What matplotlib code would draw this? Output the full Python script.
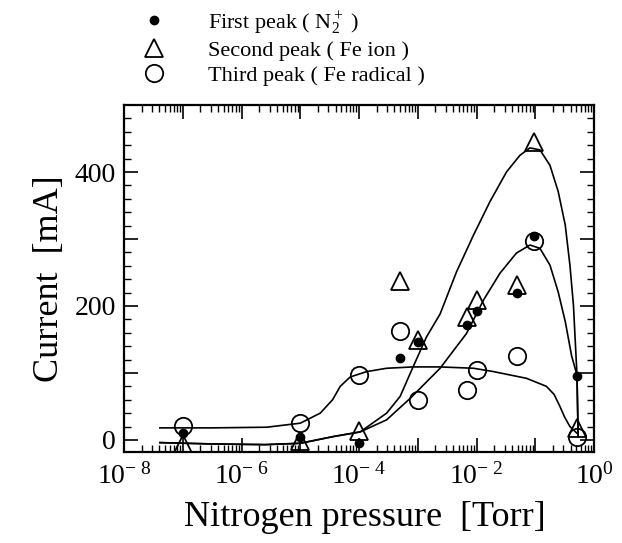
import numpy as np
import matplotlib
matplotlib.use("Agg")
import matplotlib.pyplot as plt
from matplotlib.ticker import LogLocator, MultipleLocator, FuncFormatter, NullFormatter

plt.rcParams['font.family'] = ['Liberation Serif', 'DejaVu Serif']
plt.rcParams['mathtext.fontset'] = 'custom'
plt.rcParams['mathtext.rm'] = 'Liberation Serif'
plt.rcParams['mathtext.it'] = 'Liberation Serif:italic'

# measured points (pressure in Torr, current in mA)
pressure = [1e-7, 1e-5, 1e-4, 5e-4, 1e-3, 7e-3, 1e-2, 4.8e-2, 9.5e-2, 0.52]
first_peak = [11, 5, -4, 122, 146, 171, 192, 219, 304, 96]
second_peak = [-6, -1, 14, 238, 149, 183, 209, 231, 445, 18]
third_peak = [21, 26, 97, 163, 60, 75, 105, 126, 297, 4]

# fitted curves (log10 pressure, current)
fit2_logp = [-7.39, -6.5, -5.6, -5.0, -4.44, -3.98, -3.53, -3.30, -3.08, -2.85, -2.62,
             -2.34, -2.05, -1.77, -1.49, -1.26, -1.09, -0.92, -0.75, -0.61, -0.49,
             -0.41, -0.35, -0.29, -0.27]
fit2_cur = [-4, -6, -7, -5, 5, 12, 40, 65, 109, 154, 188,
            251, 306, 356, 400, 425, 436, 433, 410, 371, 321,
            261, 201, 97, 5]
fit1_logp = [-7.39, -6.5, -5.6, -5.0, -4.44, -3.98, -3.53, -3.13, -2.62, -2.17, -1.88,
             -1.60, -1.32, -1.09, -0.92, -0.75, -0.61, -0.49, -0.38, -0.29, -0.27]
fit1_cur = [-4, -6, -7, -5, 5, 12, 30, 62, 107, 159, 209,
            249, 279, 291, 286, 261, 221, 177, 125, 97, 5]
fit3_logp = [-7.39, -6.5, -5.57, -5.0, -4.66, -4.45, -4.32, -4.15, -3.87, -3.53, -3.08,
             -2.62, -2.05, -1.71, -1.15, -0.81, -0.68, -0.58, -0.5, -0.41, -0.29]
fit3_cur = [18, 18, 19, 25, 40, 60, 80, 94, 102, 107, 109,
            109, 107, 102, 92, 80, 68, 50, 34, 20, 10]

fig = plt.figure(figsize=(6.22, 5.43), dpi=100)
ax = fig.add_axes([0.1994, 0.1676, 0.7556, 0.639])

for lp, c in [(fit1_logp, fit1_cur), (fit2_logp, fit2_cur), (fit3_logp, fit3_cur)]:
    ax.plot(10 ** np.array(lp), c, color='black', lw=1.2, zorder=2)

ax.plot(pressure, third_peak, 'o', ms=12.5, mfc='none', mec='black', mew=1.3,
        label='Third peak ( Fe radical )', zorder=3)
ax.plot(pressure, second_peak, '^', ms=12.5, mfc='none', mec='black', mew=1.3,
        label='Second peak ( Fe ion )', zorder=4)
ax.plot(pressure, first_peak, 'o', ms=6, color='black',
        label='First peak ( N$_2^+$ )', zorder=5)

ax.set_xscale('log')
ax.set_xlim(1e-8, 1)
ax.set_ylim(-18, 500)

ax.xaxis.set_major_locator(LogLocator(base=10, numticks=20))
ax.xaxis.set_minor_locator(LogLocator(base=10, subs=np.arange(2, 10), numticks=20))
ax.xaxis.set_minor_formatter(NullFormatter())


def xfmt(v, pos):
    e = int(round(np.log10(v)))
    if e % 2:
        return ''
    if e == 0:
        return r'$\mathregular{10^{0}}$'
    return r'$\mathregular{10^{-\ %d}}$' % (-e)


ax.xaxis.set_major_formatter(FuncFormatter(xfmt))
ax.yaxis.set_major_locator(MultipleLocator(100))
ax.yaxis.set_minor_locator(MultipleLocator(20))
ax.yaxis.set_major_formatter(FuncFormatter(lambda v, p: '%d' % v if v % 200 == 0 else ''))

ax.tick_params(which='both', direction='in', top=True, right=True, labelsize=20)
ax.tick_params(which='major', length=10, width=1.2)
ax.tick_params(which='minor', length=5, width=1.0)
ax.tick_params(axis='x', pad=8)
ax.tick_params(axis='y', pad=6)
for s in ax.spines.values():
    s.set_linewidth(1.6)

ax.set_xlabel('Nitrogen pressure  [Torr]', fontsize=26)
ax.set_ylabel('Current  [mA]', fontsize=26, labelpad=6)
ax.xaxis.set_label_coords(0.513, -0.141)

h, l = ax.get_legend_handles_labels()
fig.legend(h[::-1], l[::-1], loc='upper left', bbox_to_anchor=(0.205, 1.008),
           frameon=False, fontsize=16, labelspacing=0.2, handletextpad=1.8,
           handlelength=1.2, borderpad=0.1)

fig.savefig('out.png', dpi=100)
